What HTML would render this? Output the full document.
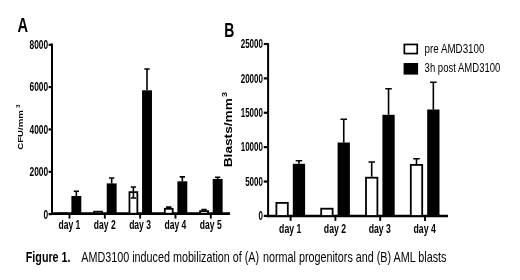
<!DOCTYPE html>
<html lang="en"><head><meta charset="utf-8"><title>Figure 1</title>
<style>
html,body{margin:0;padding:0;background:#fff;}
body{width:520px;height:280px;overflow:hidden;}
svg{display:block;filter:blur(0.45px);}
svg text{font-family:"Liberation Sans",sans-serif;fill:#000;}
</style></head><body>
<svg width="520" height="280" viewBox="0 0 520 280">
<rect width="520" height="280" fill="#fff"/>
<path d="M52.0,43.5 V214.89999999999998" stroke="#000" stroke-width="2" fill="none"/>
<path d="M51.0,213.7 H230" stroke="#000" stroke-width="2.7" fill="none"/>
<path d="M48.6,44.8 H52.0" stroke="#000" stroke-width="2.2" fill="none"/>
<text transform="translate(48.15,49.0) scale(0.7,1)" font-size="12" font-weight="bold" text-anchor="end" >8000</text>
<path d="M48.6,87.1 H52.0" stroke="#000" stroke-width="2.2" fill="none"/>
<text transform="translate(48.15,91.3) scale(0.7,1)" font-size="12" font-weight="bold" text-anchor="end" >6000</text>
<path d="M48.6,129.45 H52.0" stroke="#000" stroke-width="2.2" fill="none"/>
<text transform="translate(48.15,133.64999999999998) scale(0.7,1)" font-size="12" font-weight="bold" text-anchor="end" >4000</text>
<path d="M48.6,171.8 H52.0" stroke="#000" stroke-width="2.2" fill="none"/>
<text transform="translate(48.15,176.0) scale(0.7,1)" font-size="12" font-weight="bold" text-anchor="end" >2000</text>
<path d="M48.6,214.1 H52.0" stroke="#000" stroke-width="2.2" fill="none"/>
<text transform="translate(48.15,218.6) scale(0.7,1)" font-size="12" font-weight="bold" text-anchor="end" >0</text>
<path d="M69.5,213.7 V218.6" stroke="#000" stroke-width="1.9" fill="none"/>
<rect x="58.80" y="213.50" width="7.90" height="0.20" fill="#fff" stroke="#000" stroke-width="1.8"/>
<rect x="71.4" y="196.0" width="9.899999999999991" height="17.69999999999999" fill="#000"/>
<path d="M76.35,191.3 V196.0 M73.69999999999999,191.3 H79.0" stroke="#000" stroke-width="1.6" fill="none"/>
<text transform="translate(69.4,229.1) scale(0.713,1)" font-size="12" font-weight="bold" text-anchor="middle" >day 1</text>
<path d="M104.83,213.7 V218.6" stroke="#000" stroke-width="1.9" fill="none"/>
<rect x="94.13" y="211.70" width="7.90" height="2.00" fill="#fff" stroke="#000" stroke-width="1.8"/>
<rect x="106.73" y="183.4" width="9.899999999999991" height="30.299999999999983" fill="#000"/>
<path d="M111.68,178.0 V183.4 M109.03,178.0 H114.33000000000001" stroke="#000" stroke-width="1.6" fill="none"/>
<text transform="translate(104.73,229.1) scale(0.713,1)" font-size="12" font-weight="bold" text-anchor="middle" >day 2</text>
<path d="M140.16,213.7 V218.6" stroke="#000" stroke-width="1.9" fill="none"/>
<path d="M133.41,187.0 V191.25 M130.76,187.0 H136.06" stroke="#000" stroke-width="1.6" fill="none"/>
<rect x="129.46" y="192.15" width="7.90" height="21.55" fill="#fff" stroke="#000" stroke-width="1.8"/>
<path d="M133.41,191.25 V198.0 M130.76,198.0 H136.06" stroke="#000" stroke-width="1.6" fill="none"/>
<rect x="142.06" y="90.3" width="9.900000000000006" height="123.39999999999999" fill="#000"/>
<path d="M147.01,69.0 V90.3 M144.35999999999999,69.0 H149.66" stroke="#000" stroke-width="1.6" fill="none"/>
<text transform="translate(140.06,229.1) scale(0.713,1)" font-size="12" font-weight="bold" text-anchor="middle" >day 3</text>
<path d="M175.49,213.7 V218.6" stroke="#000" stroke-width="1.9" fill="none"/>
<path d="M168.74,207.1 V207.9 M166.09,207.1 H171.39000000000001" stroke="#000" stroke-width="1.6" fill="none"/>
<rect x="164.79" y="208.80" width="7.90" height="4.90" fill="#fff" stroke="#000" stroke-width="1.8"/>
<rect x="177.39000000000001" y="181.3" width="9.900000000000006" height="32.39999999999998" fill="#000"/>
<path d="M182.34000000000003,176.9 V181.3 M179.69000000000003,176.9 H184.99000000000004" stroke="#000" stroke-width="1.6" fill="none"/>
<text transform="translate(175.39000000000001,229.1) scale(0.713,1)" font-size="12" font-weight="bold" text-anchor="middle" >day 4</text>
<path d="M210.82,213.7 V218.6" stroke="#000" stroke-width="1.9" fill="none"/>
<path d="M204.07,209.6 V210.2 M201.42,209.6 H206.72" stroke="#000" stroke-width="1.6" fill="none"/>
<rect x="200.12" y="211.10" width="7.90" height="2.60" fill="#fff" stroke="#000" stroke-width="1.8"/>
<rect x="212.72" y="179.0" width="9.900000000000006" height="34.69999999999999" fill="#000"/>
<path d="M217.67000000000002,177.2 V179.0 M215.02,177.2 H220.32000000000002" stroke="#000" stroke-width="1.6" fill="none"/>
<text transform="translate(210.72,229.1) scale(0.713,1)" font-size="12" font-weight="bold" text-anchor="middle" >day 5</text>
<text transform="translate(17.45,32.2) scale(0.72,1)" font-size="20.4" font-weight="bold" text-anchor="start" >A</text>
<text transform="translate(23.4,149.7) rotate(-90) scale(1,0.75)" font-size="9.6" font-weight="bold">CFU/mm</text>
<text transform="translate(19.5,107.9) rotate(-90) scale(1,0.74)" font-size="6.4" font-weight="bold">3</text>
<path d="M268.1,43.2 V217.2" stroke="#000" stroke-width="2" fill="none"/>
<path d="M267.1,216.0 H448" stroke="#000" stroke-width="2.4" fill="none"/>
<path d="M263.8,44.0 H268.1" stroke="#000" stroke-width="2.2" fill="none"/>
<text transform="translate(262.9,48.3) scale(0.665,1)" font-size="12" font-weight="bold" text-anchor="end" >25000</text>
<path d="M263.8,78.38 H268.1" stroke="#000" stroke-width="2.2" fill="none"/>
<text transform="translate(262.9,82.67999999999999) scale(0.665,1)" font-size="12" font-weight="bold" text-anchor="end" >20000</text>
<path d="M263.8,112.76 H268.1" stroke="#000" stroke-width="2.2" fill="none"/>
<text transform="translate(262.9,117.06) scale(0.665,1)" font-size="12" font-weight="bold" text-anchor="end" >15000</text>
<path d="M263.8,147.14000000000001 H268.1" stroke="#000" stroke-width="2.2" fill="none"/>
<text transform="translate(262.9,151.44000000000003) scale(0.665,1)" font-size="12" font-weight="bold" text-anchor="end" >10000</text>
<path d="M263.8,181.52 H268.1" stroke="#000" stroke-width="2.2" fill="none"/>
<text transform="translate(262.9,185.82000000000002) scale(0.665,1)" font-size="12" font-weight="bold" text-anchor="end" >5000</text>
<path d="M263.8,215.9 H268.1" stroke="#000" stroke-width="2.2" fill="none"/>
<text transform="translate(262.9,220.20000000000002) scale(0.665,1)" font-size="12" font-weight="bold" text-anchor="end" >0</text>
<path d="M290.6,216.0 V220.9" stroke="#000" stroke-width="1.9" fill="none"/>
<rect x="276.40" y="202.90" width="11.40" height="13.10" fill="#fff" stroke="#000" stroke-width="1.8"/>
<rect x="292.8" y="163.8" width="12.300000000000011" height="52.19999999999999" fill="#000"/>
<path d="M298.95000000000005,160.8 V163.8 M295.70000000000005,160.8 H302.20000000000005" stroke="#000" stroke-width="1.6" fill="none"/>
<text transform="translate(290.20000000000005,232.5) scale(0.727,1)" font-size="12" font-weight="bold" text-anchor="middle" >day 1</text>
<path d="M335.40000000000003,216.0 V220.9" stroke="#000" stroke-width="1.9" fill="none"/>
<rect x="321.20" y="208.70" width="11.40" height="7.30" fill="#fff" stroke="#000" stroke-width="1.8"/>
<rect x="337.6" y="142.5" width="12.300000000000011" height="73.5" fill="#000"/>
<path d="M343.75,119.2 V142.5 M340.5,119.2 H347.0" stroke="#000" stroke-width="1.6" fill="none"/>
<text transform="translate(335.00000000000006,232.5) scale(0.727,1)" font-size="12" font-weight="bold" text-anchor="middle" >day 2</text>
<path d="M380.20000000000005,216.0 V220.9" stroke="#000" stroke-width="1.9" fill="none"/>
<path d="M371.70000000000005,162.0 V176.8 M368.45000000000005,162.0 H374.95000000000005" stroke="#000" stroke-width="1.6" fill="none"/>
<rect x="366.00" y="177.70" width="11.40" height="38.30" fill="#fff" stroke="#000" stroke-width="1.8"/>
<rect x="382.40000000000003" y="114.8" width="12.300000000000011" height="101.2" fill="#000"/>
<path d="M388.55000000000007,88.8 V114.8 M385.30000000000007,88.8 H391.80000000000007" stroke="#000" stroke-width="1.6" fill="none"/>
<text transform="translate(379.80000000000007,232.5) scale(0.727,1)" font-size="12" font-weight="bold" text-anchor="middle" >day 3</text>
<path d="M425.0,216.0 V220.9" stroke="#000" stroke-width="1.9" fill="none"/>
<path d="M416.5,158.8 V164.0 M413.25,158.8 H419.75" stroke="#000" stroke-width="1.6" fill="none"/>
<rect x="410.80" y="164.90" width="11.40" height="51.10" fill="#fff" stroke="#000" stroke-width="1.8"/>
<rect x="427.2" y="109.5" width="12.300000000000011" height="106.5" fill="#000"/>
<path d="M433.35,82.2 V109.5 M430.1,82.2 H436.6" stroke="#000" stroke-width="1.6" fill="none"/>
<text transform="translate(424.6,232.5) scale(0.727,1)" font-size="12" font-weight="bold" text-anchor="middle" >day 4</text>
<text transform="translate(224.2,36.6) scale(0.7,1)" font-size="20" font-weight="bold" text-anchor="start" >B</text>
<text transform="translate(231.6,167.3) rotate(-90) scale(1,0.75)" font-size="13.7" font-weight="bold">Blasts/mm</text>
<text transform="translate(226.6,97.0) rotate(-90) scale(1,0.76)" font-size="9" font-weight="bold">3</text>
<rect x="404.35" y="44.45" width="12.9" height="9.1" fill="#fff" stroke="#000" stroke-width="1.7"/>
<rect x="403.6" y="63.0" width="14.5" height="11.6" fill="#000"/>
<text transform="translate(424.6,52.8) scale(0.783,1)" font-size="12.5" font-weight="normal" text-anchor="start" >pre AMD3100</text>
<text transform="translate(424.6,71.8) scale(0.763,1)" font-size="12.5" font-weight="normal" text-anchor="start" >3h post AMD3100</text>
<text transform="translate(25.8,262.4) scale(0.766,1)" font-size="14" font-weight="bold" text-anchor="start" >Figure 1.</text>
<text transform="translate(81.3,262.4) scale(0.77,1)" font-size="14" font-weight="normal" text-anchor="start" >AMD3100 induced mobilization of (A)</text>
<text transform="translate(263.0,262.4) scale(0.77,1)" font-size="14" font-weight="normal" text-anchor="start" >normal progenitors and (B) AML blasts</text>
</svg>
</body></html>
